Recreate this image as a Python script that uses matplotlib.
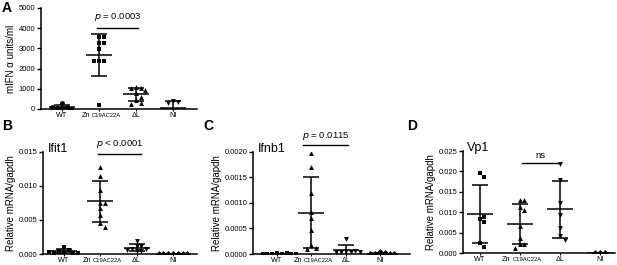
import matplotlib
matplotlib.use("Agg")
import matplotlib.pyplot as plt
import numpy as np

plt.rcParams['font.family'] = ['Liberation Sans', 'DejaVu Sans']
plt.rcParams['mathtext.fontset'] = 'custom'
plt.rcParams['mathtext.rm'] = 'Liberation Sans'

groups = ['WT', '', u'\u0394L', 'NI']
zn_main = 'Zn'
zn_sub = 'C19AC22A'

# panel A: IFN alpha ELISA
ifn_wt = [280, 100, 60, 40, 20, 80]
ifn_zn = [3580, 3580, 3250, 3250, 2970, 2390, 2390, 2390, 200]
ifn_dl = [1070, 1050, 1040, 960, 780, 600, 420, 300, 260]
ifn_ni = [400, 360, 280, -120, -280, -400]

# panel B: Ifit1
ifit_wt = [0.00105, 0.0006, 0.0005, 0.0003, 0.0002, 0.0001, 0.0001, 0.0003]
ifit_zn = [0.01284, 0.01147, 0.00941, 0.00755, 0.00755, 0.00672, 0.00574, 0.00451, 0.00402]
ifit_dl = [0.00196, 0.0012, 0.0012, 0.0008, 0.0007, 0.0005, 0.0004, 0.0006]
ifit_ni = [0, 0, 0, 0, 0, 0, 0]

# panel C: Ifnb1
ifnb_wt = [0.00001, 0, 0, 0.00001, 0, 0, 0, 0]
ifnb_zn = [0.00198, 0.00171, 0.00120, 0.00082, 0.00070, 0.00047, 0.00018, 0.00012, 0.0001]
ifnb_dl = [0.00029, 0.00005, 0.00004, 0.00003, 0.00005, 0.00004, 0.00003]
ifnb_ni = [0.00004, 0.00001, 0, 0, 0, 0]

# panel D: Vp1
vp_wt = [0.0196, 0.0187, 0.0083, 0.0089, 0.0075, 0.0024, 0.0016]
vp_zn = [0.013, 0.013, 0.0114, 0.0105, 0.0067, 0.0037, 0.0023, 0.0023, 0.0012]
vp_dl = [0.0218, 0.0179, 0.0123, 0.0093, 0.0061, 0.0042, 0.0032]
vp_ni = [0, 0, 0]


def swarm(vals, ax, xc, diam=4.8):
	# spread points sideways so they do not overlap (in pixels)
	fig = ax.figure
	fig.canvas.draw()
	bb = ax.get_window_extent()
	x0, x1 = ax.get_xlim()
	y0, y1 = ax.get_ylim()
	pxx = bb.width/(x1-x0)
	pxy = bb.height/(y1-y0)
	placed = []
	offs = []
	for v in vals:
		py = v*pxy
		k = 0
		while True:
			cand = ((k+1)//2)*diam*(1 if k % 2 else -1) if k else 0.0
			if all((cand-ox)**2+(py-oy)**2 >= (diam*0.95)**2 for ox, oy in placed):
				break
			k += 1
		placed.append((cand, py))
		offs.append(xc + cand/pxx)
	return np.array(offs)


def panel(ax, data, markers, ylim, yticks, fmt, xlim):
	ax.set_xlim(*xlim)
	ax.set_ylim(*ylim)
	fig = ax.figure
	fig.canvas.draw()
	bb = ax.get_window_extent()
	pxx = bb.width/(xlim[1]-xlim[0])
	for i, (vals, m) in enumerate(zip(data, markers)):
		vals = np.array(vals, dtype=float)
		xs = swarm(vals, ax, i)
		ax.plot(xs, vals, ls='none', marker=m, ms=3.5, color='black', mew=0, zorder=3)
		mu = vals.mean()
		sd = vals.std(ddof=1)
		ax.hlines(mu, i-13/pxx, i+13/pxx, color='black', lw=1.1, zorder=4)
		ax.vlines(i, max(mu-sd, ylim[0]), mu+sd, color='black', lw=1.1, zorder=4)
		ax.hlines([mu+sd], i-8/pxx, i+8/pxx, color='black', lw=1.1, zorder=4)
		if mu-sd > ylim[0]:
			ax.hlines([mu-sd], i-8/pxx, i+8/pxx, color='black', lw=1.1, zorder=4)
	ax.set_yticks(yticks)
	ax.set_yticklabels([fmt.format(t) for t in yticks])
	ax.set_xticks(range(4))
	ax.set_xticklabels(groups)
	# Zn label with the smaller mutation name beside it
	ax.annotate(zn_main, xy=(1, 0), xycoords=('data', 'axes fraction'), xytext=(-6.5, -2.3),
		textcoords='offset points', ha='right', va='top', fontsize=5.2)
	ax.annotate(zn_sub, xy=(1, 0), xycoords=('data', 'axes fraction'), xytext=(-5.3, -3.0),
		textcoords='offset points', ha='left', va='top', fontsize=4.2)
	for s in ['top', 'right']:
		ax.spines[s].set_visible(False)
	for s in ['left', 'bottom']:
		ax.spines[s].set_linewidth(1.1)
	ax.tick_params(axis='y', labelsize=5.5, length=3, width=1, pad=1)
	ax.tick_params(axis='x', labelsize=5.2, length=1.5, width=0.8, pad=0.5)


fig = plt.figure(figsize=(6.17, 2.65), dpi=100)

axA = fig.add_axes([0.066, 0.589, 0.253, 0.381])
panel(axA, [ifn_wt, ifn_zn, ifn_dl, ifn_ni], ['o', 's', '^', 'v'],
	(0, 5000), [0, 1000, 2000, 3000, 4000, 5000], '{:.0f}', (-0.57, 3.65))
axA.set_ylabel(u'mIFN \u03b1 units/ml', fontsize=7, labelpad=2)
axA.plot([0.95, 2.05], [4000, 4000], color='black', lw=1, clip_on=False)
axA.text(1.5, 4250, r'$\it{p}$ = 0.0003', ha='center', va='bottom', fontsize=6.8)

axB = fig.add_axes([0.0697, 0.0415, 0.249, 0.385])
panel(axB, [ifit_wt, ifit_zn, ifit_dl, ifit_ni], ['s', '^', 'v', 'D'],
	(0, 0.015), [0, 0.005, 0.010, 0.015], '{:.3f}', (-0.57, 3.65))
axB.set_ylabel('Relative mRNA/gapdh', fontsize=7, labelpad=2)
axB.plot([0.95, 2.12], [0.0147, 0.0147], color='black', lw=1, clip_on=False)
axB.text(1.55, 0.0153, r'$\it{p}$ < 0.0001', ha='center', va='bottom', fontsize=6.8)
axB.text(0.03, 0.97, 'Ifit1', transform=axB.transAxes, fontsize=9, va='bottom')

axC = fig.add_axes([0.410, 0.0415, 0.255, 0.385])
panel(axC, [ifnb_wt, ifnb_zn, ifnb_dl, ifnb_ni], ['s', '^', 'v', 'D'],
	(0, 0.002), [0, 0.0005, 0.0010, 0.0015, 0.0020], '{:.4f}', (-0.7, 3.88))
axC.set_ylabel('Relative mRNA/gapdh', fontsize=7, labelpad=2)
axC.plot([0.75, 2.07], [0.00214, 0.00214], color='black', lw=1, clip_on=False)
axC.text(1.42, 0.0022, r'$\it{p}$ = 0.0115', ha='center', va='bottom', fontsize=6.8)
axC.text(0.03, 0.97, 'Ifnb1', transform=axC.transAxes, fontsize=9, va='bottom')

axD = fig.add_axes([0.750, 0.045, 0.247, 0.385])
panel(axD, [vp_wt, vp_zn, vp_dl, vp_ni], ['s', '^', 'v', 'D'],
	(0, 0.025), [0, 0.005, 0.010, 0.015, 0.020, 0.025], '{:.3f}', (-0.42, 3.38))
axD.set_ylabel('Relative mRNA/gapdh', fontsize=7, labelpad=2)
axD.plot([1.05, 2.0], [0.022, 0.022], color='black', lw=1, clip_on=False)
axD.text(1.52, 0.0228, 'ns', ha='center', va='bottom', fontsize=6.8)
axD.text(0.03, 0.97, 'Vp1', transform=axD.transAxes, fontsize=9, va='bottom')

for lbl, x, y in [('A', 0.003, 0.995), ('B', 0.003, 0.55), ('C', 0.33, 0.55), ('D', 0.66, 0.55)]:
	fig.text(x, y, lbl, fontsize=10, fontweight='bold', va='top')

fig.savefig('out.png', dpi=100)
